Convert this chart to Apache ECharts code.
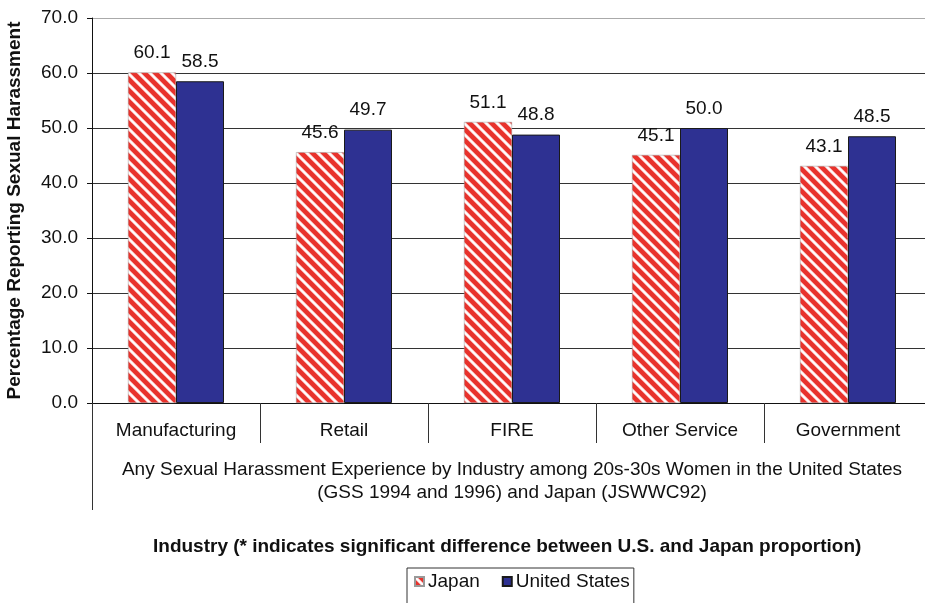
<!DOCTYPE html>
<html>
<head>
<meta charset="utf-8">
<script src="https://cdn.jsdelivr.net/npm/echarts@6/dist/echarts.min.js"></script>
<style>
html,body{margin:0;padding:0;background:#fff;}
#chart{width:925px;height:603px;}
</style>
</head>
<body>
<div id="chart"></div>
<script>
var categories = ['Manufacturing', 'Retail', 'FIRE', 'Other Service', 'Government'];
var japanValues = [60.1, 45.6, 51.1, 45.1, 43.1];
var usValues = [58.5, 49.7, 48.8, 50.0, 48.5];
var yTicks = [0, 10, 20, 30, 40, 50, 60, 70];
var groupLabel = 'Any Sexual Harassment Experience by Industry among 20s-30s Women in the United States\n(GSS 1994 and 1996) and Japan (JSWWC92)';

function stripePattern() {
  var c = document.createElement('canvas');
  var s = 11;
  c.width = s; c.height = s;
  var ctx = c.getContext('2d');
  ctx.fillStyle = '#e8322c';
  ctx.fillRect(0, 0, s, s);
  ctx.strokeStyle = 'rgba(255,225,225,0.9)';
  ctx.lineWidth = 3.2;
  ctx.beginPath();
  ctx.moveTo(-3, -3); ctx.lineTo(s + 3, s + 3);
  ctx.moveTo(-3, s - 3); ctx.lineTo(3, s + 3);
  ctx.moveTo(s - 3, -3); ctx.lineTo(s + 3, 3);
  ctx.stroke();
  ctx.strokeStyle = 'rgba(255,255,255,1)';
  ctx.lineWidth = 1.6;
  ctx.beginPath();
  ctx.moveTo(-3, -3); ctx.lineTo(s + 3, s + 3);
  ctx.moveTo(-3, s - 3); ctx.lineTo(3, s + 3);
  ctx.moveTo(s - 3, -3); ctx.lineTo(s + 3, 3);
  ctx.stroke();
  return c;
}
var pattern = { image: stripePattern(), repeat: 'repeat' };

var chart = echarts.init(document.getElementById('chart'), null, { renderer: 'canvas' });
var font = 'Liberation Sans, Arial, sans-serif';
var fs = 19;
var labelFmt = function (p) { return p.value.toFixed(1); };
chart.setOption({
  animation: false,
  textStyle: { fontFamily: font },
  title: {
    text: 'Industry (* indicates significant difference between U.S. and Japan proportion)',
    left: 148, top: 532,
    textStyle: { fontSize: 19, fontWeight: 'bold', color: '#111', fontFamily: font }
  },
  legend: {
    left: 407, top: 568,
    itemWidth: 9, itemHeight: 9, itemGap: 22,
    padding: [4, 4, 20, 7],
    borderColor: '#333', borderWidth: 1,
    icon: 'rect',
    textStyle: { fontSize: fs, color: '#111', fontFamily: font, padding: [0, 0, 0, -1] },
    data: ['Japan', 'United States']
  },
  grid: { left: 92, right: -7, top: 18, bottom: 200, containLabel: false, outerBoundsMode: 'none' },
  xAxis: [{
    type: 'category',
    data: categories,
    axisLine: { lineStyle: { color: '#111', width: 1 } },
    axisTick: { show: true, length: 40, interval: 0, lineStyle: { color: '#333' } },
    axisLabel: { margin: 18, fontSize: fs, color: '#111', fontFamily: font }
  }, {
    type: 'category',
    data: [groupLabel],
    position: 'bottom',
    offset: 40,
    axisLine: { show: false },
    axisTick: { show: true, length: 67, lineStyle: { color: '#333' } },
    axisLabel: { margin: 15, fontSize: fs, lineHeight: 23, color: '#111', fontFamily: font, align: 'center' }
  }],
  yAxis: {
    type: 'value',
    min: 0, max: 70, interval: 10,
    name: 'Percentage Reporting Sexual Harassment',
    nameLocation: 'middle',
    nameGap: 68,
    nameTextStyle: { fontSize: 19, fontWeight: 'bold', color: '#111', fontFamily: font },
    axisLine: { show: true, lineStyle: { color: '#111' } },
    axisTick: { show: true, length: 5, inside: false, lineStyle: { color: '#111' } },
    axisLabel: {
      margin: 14, fontSize: fs, color: '#111', fontFamily: font,
      formatter: function (v) { return yTicks.indexOf(v) >= 0 ? v.toFixed(1) : ''; }
    },
    splitLine: { show: true, lineStyle: { color: ['#333', '#333', '#333', '#333', '#333', '#333', '#333', '#aaa'], width: 1 } }
  },
  series: [{
    name: 'Japan',
    type: 'bar',
    data: japanValues,
    barWidth: 48,
    barGap: '0%',
    itemStyle: { color: pattern, borderColor: '#999', borderWidth: 0.5 },
    label: { show: true, position: 'top', distance: 10, fontSize: fs, color: '#111', fontFamily: font, formatter: labelFmt }
  }, {
    name: 'United States',
    type: 'bar',
    data: usValues,
    barWidth: 48,
    barGap: '0%',
    itemStyle: { color: '#2e3192', borderColor: '#1a1a1a', borderWidth: 1 },
    label: { show: true, position: 'top', distance: 10, fontSize: fs, color: '#111', fontFamily: font, formatter: labelFmt }
  }]
});
</script>
</body>
</html>
